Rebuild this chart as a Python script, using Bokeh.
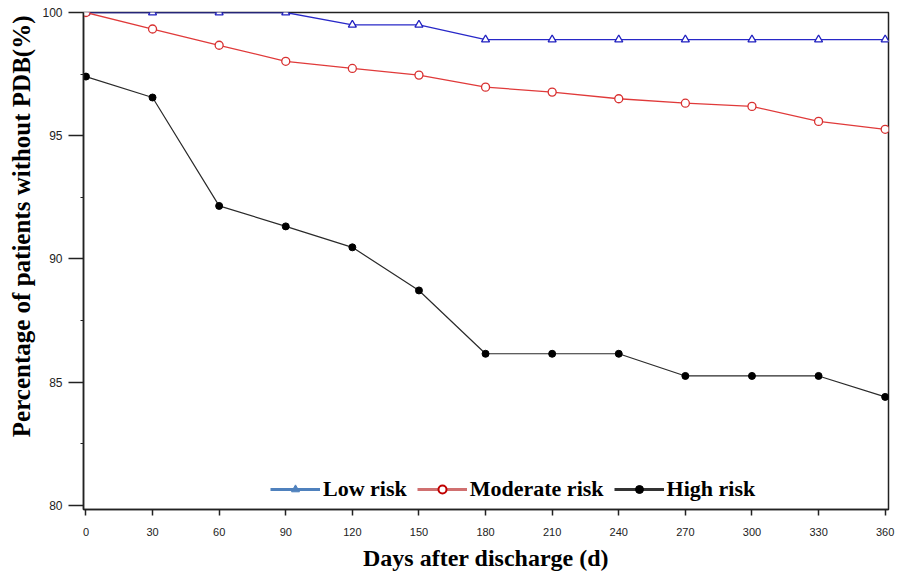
from bokeh.plotting import figure
from bokeh.models import (Range1d, FixedTicker, Legend, LegendItem,
                          ColumnDataSource, Title)
from bokeh.embed import file_html
from bokeh.resources import INLINE

days = [0, 30, 60, 90, 120, 150, 180, 210, 240, 270, 300, 330, 360]
low_risk = [100, 100, 100, 100, 99.5, 99.5, 98.9, 98.9, 98.9, 98.9, 98.9, 98.9, 98.9]
moderate_risk = [100, 99.33, 98.67, 98.02, 97.73, 97.46, 96.97, 96.77, 96.5, 96.32, 96.19, 95.58, 95.26]
high_risk = [97.4, 96.55, 92.15, 91.32, 90.47, 88.72, 86.15, 86.15, 86.15, 85.25, 85.25, 85.25, 84.4]
series_names = ["Low risk", "Moderate risk", "High risk"]
y_ticks = [80, 85, 90, 95, 100]
y_minor = [82.5, 87.5, 92.5, 97.5]
x_title = "Days after discharge (d)"
y_title = "Percentage of patients without PDB(%)"

src = ColumnDataSource(dict(x=days, low=low_risk, mod=moderate_risk, high=high_risk))

p = figure(width=899, height=574, output_backend="svg", toolbar_location=None,
           x_range=Range1d(-1.1, 361.5), y_range=Range1d(79.83, 100.0),
           min_border_left=83, min_border_right=11, min_border_top=12, min_border_bottom=65)
p.grid.visible = False
p.outline_line_color = "#222222"
p.outline_line_width = 1.5
p.background_fill_color = "white"
p.border_fill_color = "white"
# off-screen range used only by the legend-sample renderers
p.extra_y_ranges = {"legend_only": Range1d(1000, 1001)}

# data lines
p.line("x", "low", source=src, line_color="#2828C8", line_width=1.3)
p.scatter("x", "low", source=src, marker="triangle", size=8, line_color="#2020C0",
          fill_color="white", line_width=1.3)
p.line("x", "mod", source=src, line_color="#E03A3A", line_width=1.3)
p.scatter("x", "mod", source=src, marker="circle", size=8, line_color="#D83030",
          fill_color="white", line_width=1.3)
p.line("x", "high", source=src, line_color="#2a2a2a", line_width=1.2)
p.scatter("x", "high", source=src, marker="circle", size=7, line_color="black",
          fill_color="black")

# legend-sample renderers (mapped off-screen)
kw = dict(source=src, y_range_name="legend_only")
l1 = p.line("x", "low", line_color="#4F81BD", line_width=3, **kw)
m1 = p.scatter("x", "low", marker="triangle", size=11, line_color="#4F81BD",
               fill_color="#4F81BD", **kw)
l2 = p.line("x", "mod", line_color="#D07070", line_width=3, **kw)
m2 = p.scatter("x", "mod", marker="circle", size=9, line_color="#C00000",
               fill_color="white", line_width=2, **kw)
l3 = p.line("x", "high", line_color="#333333", line_width=3, **kw)
m3 = p.scatter("x", "high", marker="circle", size=7, line_color="black",
               fill_color="black", **kw)

legend = Legend(items=[LegendItem(label=series_names[0], renderers=[l1, m1]),
                       LegendItem(label=series_names[1], renderers=[l2, m2]),
                       LegendItem(label=series_names[2], renderers=[l3, m3])],
                orientation="horizontal", location=(187, 7),
                glyph_width=50, glyph_height=20, label_standoff=3, spacing=10,
                padding=4, margin=0,
                label_text_font="Liberation Serif", label_text_font_style="bold",
                label_text_font_size="22px", label_text_color="black",
                border_line_color=None, background_fill_alpha=0)
p.add_layout(legend, "center")

# axes
p.xaxis.ticker = FixedTicker(ticks=days)
p.yaxis.ticker = FixedTicker(ticks=y_ticks, minor_ticks=y_minor)
p.xaxis.axis_label = x_title
for ax in (p.xaxis, p.yaxis):
    ax.axis_label_text_font = "Liberation Serif"
    ax.axis_label_text_font_style = "bold"
    ax.axis_label_text_font_size = "24px"
    ax.axis_label_text_color = "black"
    ax.major_label_text_font = "Liberation Sans"
    ax.major_label_text_color = "#222222"
    ax.axis_line_color = "#222222"
    ax.axis_line_width = 1.5
    ax.major_tick_line_color = "#222222"
    ax.major_tick_line_width = 1.5
    ax.major_tick_in = 0

p.xaxis.major_label_text_font_size = "11px"
p.xaxis.major_tick_out = 6
p.xaxis.minor_tick_line_color = None
p.xaxis.major_label_standoff = 12
p.xaxis.axis_label_standoff = 6

p.yaxis.major_label_text_font_size = "12px"
p.yaxis.major_tick_out = 15
p.yaxis.minor_tick_out = 3
p.yaxis.minor_tick_in = 0
p.yaxis.minor_tick_line_color = "#222222"
p.yaxis.major_label_standoff = 6

yt = Title(text=y_title, align="right", offset=3, standoff=10,
           text_font="Liberation Serif", text_font_style="bold",
           text_font_size="25px", text_color="black")
p.add_layout(yt, "left")

open("out.html", "w").write(file_html(p, INLINE))
